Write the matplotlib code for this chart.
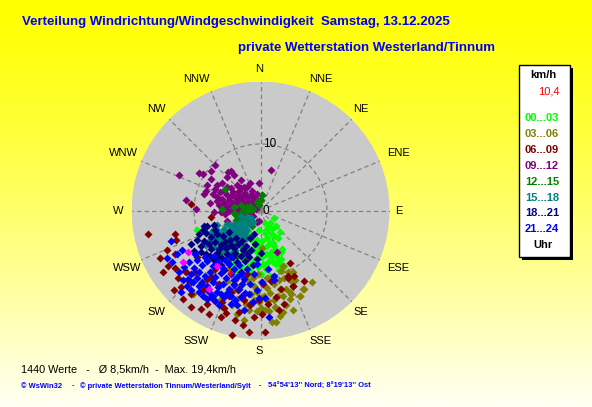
import numpy as np
import matplotlib
matplotlib.use('Agg')
import matplotlib.pyplot as plt
from matplotlib.patches import Circle, Rectangle

plt.rcParams['font.family'] = ['Liberation Sans', 'DejaVu Sans']

# ---------------- data ----------------
title_line1 = "Verteilung Windrichtung/Windgeschwindigkeit  Samstag, 13.12.2025"
title_line2 = "private Wetterstation Westerland/Tinnum"
directions = ['N', 'NNE', 'NE', 'ENE', 'E', 'ESE', 'SE', 'SSE',
              'S', 'SSW', 'SW', 'WSW', 'W', 'WNW', 'NW', 'NNW']
ring_values = [0, 10]
n_values = 1440
mean_speed = 8.5
max_speed = 19.4
current_speed = 10.4
current_dir = 206  # degrees, clockwise from north

group_labels = ['00...03', '03...06', '06...09', '09...12',
                '12...15', '15...18', '18...21', '21...24']
group_colors = ['#00FF00', '#808000', '#800000', '#800080',
                '#008000', '#008080', '#000080', '#0000FF']

# wind vectors: east / north components in km/h
pts_00_03 = [(0.7,-1.9),(1.2,-2.6),(0.7,-3.4),(1.7,-3.6),(1.9,-4.9),(1.4,-1.9),(-1.6,-4.1),
             (-0.8,-4.9),(-2.0,-5.6),(0.9,-2.9),(2.0,-3.9),(1.4,-4.9),(2.1,-5.4),(2.4,-6.8),
             (3.1,-7.3),(0.4,-5.6),(-0.6,-4.4),(-0.1,-6.1),(1.2,-7.8),(1.9,-7.8),(2.3,-2.4),
             (2.4,-8.1),(-9.5,-2.9),(-1.8,-3.6),(-1.3,-4.4),(-0.6,-6.3),(-2.0,-6.3),(-1.1,-7.8),
             (-3.0,-8.3),(0.2,-7.0),(0.8,-8.8),(-0.4,-8.5),(1.6,-6.2),(2.6,-4.2),(3.3,-5.8),
             (2.8,-9.0),(-2.6,-7.2),(-3.6,-6.6),(-4.2,-8.0),(-1.5,-9.2),(0.0,-9.6),(-0.2,-3.0),
             (3.0,-3.2),(-2.4,-10.0),(1.4,-9.8),(3.6,-8.4),(-3.4,-9.4),(2.0,-1.2),(3.1,-6.3),
             (2.9,-8.1),(1.0,-4.2),(0.2,-4.6),(-0.4,-5.2),(-1.2,-5.8),(0.8,-6.6),(-0.6,-7.2),
             (1.6,-7.0),(2.2,-6.0),(0.4,-8.0),(-1.8,-8.4),(-2.8,-6.6),(1.0,-5.4),(1.8,-2.8),
             (2.6,-7.6)]
pts_03_06 = [(0.2,-5.6),(3.4,-8.4),(4.4,-10.5),(4.9,-11.3),(4.6,-12.5),(4.4,-13.3),(5.9,-12.8),
             (7.8,-10.8),(4.9,-15.0),(3.4,-15.2),(1.7,-16.7),(0.7,-15.0),(-0.6,-15.1),(-2.5,-16.5),
             (-3.5,-13.3),(-2.8,-13.0),(3.1,-9.1),(4.1,-9.3),(4.9,-9.3),(3.9,-11.8),(6.5,-11.8),
             (2.2,-14.5),(1.3,-15.1),(2.4,-16.7),(-3.5,-15.5),(-4.3,-14.2),(-5.8,-14.5),(-8.4,-11.4),
             (-8.5,-12.9),(6.4,-11.8),(4.4,-12.3),(2.4,-14.7),(2.1,-13.5),(2.9,-15.9),(-1.8,-15.0),
             (-6.0,-13.3),(-8.2,-11.5),(-2.0,-10.5),(-1.0,-11.4),(0.0,-10.8),(1.0,-11.6),(2.0,-11.0),
             (3.0,-11.8),(-1.5,-12.6),(-0.5,-12.2),(0.5,-12.8),(1.5,-12.4),(2.6,-12.8),(-3.0,-11.2),
             (-4.0,-12.0),(-5.0,-10.6),(-6.5,-11.0),(1.8,-10.0),(-0.2,-13.8),(3.6,-10.2),(-7.2,-9.6),
             (-4.8,-8.8),(-10.2,-12.6),(-7.4,-10.4),(5.9,-12.9),(-1.2,-10.2),(-0.4,-9.6),(1.0,-10.2),
             (2.8,-10.4),(3.4,-12.8),(1.2,-13.6),(-1.0,-13.4),(-2.2,-14.0),(0.0,-14.6),(3.8,-14.2),
             (5.2,-10.4),(-3.8,-10.4)]
pts_06_09 = [(-16.9,-3.6),(-14.0,-5.9),(-12.9,-6.6),(-15.1,-7.2),(-14.6,-9.2),(-10.5,1.0),
             (-12.8,-3.6),(-12.7,-4.5),(-7.5,-1.0),(-13.9,-8.3),(-11.4,-9.1),(-10.9,-10.5),
             (-10.4,-12.5),(-11.7,-13.3),(-10.4,-14.5),(-9.0,-14.8),(-6.0,-16.0),(-5.5,-14.7),
             (-5.8,-13.8),(-4.8,-12.8),(-3.8,-16.5),(-4.3,-18.7),(-10.4,-10.8),(-8.0,-10.3),
             (-7.5,-10.0),(-6.2,-11.0),(-4.0,-11.0),(-4.5,-12.3),(-2.8,-12.8),(-2.5,-13.5),
             (-1.6,-14.2),(-0.3,-13.5),(2.4,-13.0),(4.9,-11.3),(0.7,-18.2),(4.2,-10.1),(4.9,-11.4),
             (3.1,-11.8),(4.1,-9.9),(5.1,-9.8),(1.2,-14.0),(-1.6,-14.0),(0.4,-11.0),(-1.8,-18.3),
             (-11.2,-9.3),(-9.9,-9.3),(-12.0,-11.5),(-8.6,-12.0),(-7.0,-13.5),(-3.2,-15.2),
             (6.6,-10.6),(3.6,-14.0),(-9.5,-7.0),(-12.4,-10.2),(-13.0,-12.0),(-6.8,-8.8),
             (-2.0,-9.6),(1.6,-10.6),(-7.8,-15.6),(-1.0,-16.0),(4.5,-7.9),(-9.0,-11.0),(-8.0,-14.0),
             (-3.4,-12.0),(-5.2,-15.4),(0.2,-15.6),(-2.6,-17.2),(2.8,-15.0),(-12.8,-8.6)]
pts_09_12 = [(-12.2,5.3),(-9.2,5.6),(-8.7,5.5),(-6.8,6.8),(-7.4,5.9),(-7.4,4.7),(-4.9,5.8),
             (-4.5,6.0),(-5.0,5.0),(-4.0,5.3),(-6.6,3.8),(-8.0,3.8),(-8.2,3.0),(-7.2,2.5),
             (-8.5,2.5),(-6.1,2.8),(-6.5,2.0),(-7.6,1.2),(-11.2,1.6),(-9.7,0.3),(-7.0,-0.2),
             (1.65,6.1),(-0.2,4.1),(-5.0,-1.6),(-1.1,-0.9),(-0.3,-1.6),(2.5,-6.2),(-0.6,-1.7),
             (-5.5,3.0),(-4.5,3.4),(-3.5,3.8),(-2.5,3.6),(-2.0,3.5),(-1.3,3.0),(-5.8,1.8),
             (-5.0,2.4),(-4.2,2.8),(-3.3,2.9),(-2.4,2.7),(-1.5,2.4),(-0.6,2.5),(0.2,2.4),
             (-5.5,1.2),(-4.7,1.6),(-3.9,2.0),(-3.0,2.1),(-2.1,1.9),(-1.2,1.6),(-0.4,1.5),
             (-5.2,0.5),(-4.4,0.9),(-3.6,1.3),(-2.8,1.4),(-1.9,1.2),(-0.9,0.9),(-4.8,0.0),
             (-4.0,0.2),(-3.3,0.4),(-2.5,0.3),(-1.6,0.5),(-0.7,0.2),(-3.8,-0.5),(-2.9,-0.3),
             (-2.2,-0.6),(-1.4,-0.2),(-6.2,0.9),(-6.0,-0.3),(-5.4,-0.6),(-5.0,3.6),(-3.0,3.4),
             (-4.4,2.2),(-3.4,2.4),(-2.6,2.2),(-1.0,2.0),(-0.2,0.8),(-5.0,1.0),(-4.2,1.2),
             (-3.2,1.8),(-2.3,1.0),(-1.4,1.0),(-3.5,-0.2),(-6.6,1.4),(-6.8,3.2),(-5.8,4.2),
             (-3.0,4.6),(-1.6,4.2)]
pts_12_15 = [(-5.4,3.3),(-5.8,0.3),(-4.0,0.6),(-4.0,-0.4),(-3.0,0.8),(-2.0,0.6),(-1.1,0.3),
             (-3.0,-0.4),(-2.0,-0.2),(-1.5,0.1),(-0.6,1.3),(-0.1,1.6),(0.17,2.4),(0.07,1.6),
             (-0.3,0.8),(-1.6,0.7),(-2.5,0.2),(-3.5,-0.9),(-1.3,-2.4),(-3.0,-1.2),(-3.5,-1.9),
             (-4.0,-2.9),(-4.5,-3.9),(-5.0,-4.9),(-2.2,-1.5),(-2.6,-2.3),(-3.2,-3.3),(-3.8,-4.4),
             (-4.3,-5.2),(-5.6,-5.7),(-6.2,-6.5),(-2.8,-5.5),(-3.5,-6.8),(-4.8,-7.3),(-6.5,-4.4),
             (-3.7,-1.4),(-2.4,-1.2),(-4.6,-4.6),(-5.4,-6.2),(-4.0,-6.2)]
pts_15_18 = [(-1.5,-1.2),(-2.0,-1.0),(-2.5,-2.4),(-2.0,-2.9),(-3.0,-0.9),(-3.3,-1.9),(-3.5,-2.9),
             (-4.0,-2.1),(-4.5,-2.4),(-5.0,-3.6),(-4.5,-3.9),(-7.2,-2.9),(-7.5,-3.6),(-6.5,-3.0),
             (-6.0,-3.5),(-5.5,-2.8),(-5.8,-4.2),(-5.2,-4.6),(-4.0,-4.0),(-3.5,-3.6),(-3.0,-3.2),
             (-2.8,-4.0),(-3.3,-4.6),(-4.2,-5.0),(-4.8,-5.5),(-5.5,-5.2),(-6.3,-4.8),(-6.8,-4.0),
             (-7.8,-4.6),(-8.2,-5.2),(-7.0,-5.5),(-6.0,-6.0),(-5.2,-6.3),(-4.5,-6.6),(-3.8,-6.0),
             (-3.0,-5.2),(-2.4,-3.5),(-6.6,-2.2),(-5.0,-2.0),(-3.8,-2.6),(-2.6,-1.8),(-4.6,-3.0),
             (-3.9,-3.3),(-3.2,-2.4),(-2.8,-2.9),(-5.4,-3.4),(-6.2,-3.9),(-4.9,-4.2),(-1.8,-2.0),
             (-1.2,-1.8),(-2.2,-4.2)]
pts_18_21 = [(-8.5,-2.4),(-8.0,-2.3),(-7.0,-2.2),(-8.2,-3.4),(-6.5,-3.6),(-9.5,-4.4),(-8.5,-4.6),
             (-10.0,-6.1),(-10.4,-5.1),(-9.0,-5.4),(-7.5,-4.0),(-6.8,-4.8),(-6.0,-5.2),(-5.3,-4.8),
             (-4.6,-4.5),(-4.0,-5.6),(-3.4,-5.0),(-2.8,-4.6),(-2.2,-5.3),(-1.6,-4.2),(-1.0,-3.6),
             (-2.0,-6.5),(-3.0,-6.8),(-4.2,-7.0),(-5.0,-6.6),(-5.8,-7.2),(-6.6,-6.4),(-7.4,-5.8),
             (-8.2,-6.6),(-7.0,-7.4),(-6.0,-8.2),(-4.8,-8.0),(-3.6,-7.8),(-2.4,-7.6),(-1.5,-6.0),
             (-0.8,-5.0),(-0.6,-7.3),(0.0,-6.4),(-1.2,-8.2),(-5.5,-9.0),(-3.0,-9.2),(-6.9,-3.0),
             (-5.6,-3.9),(-4.8,-3.3),(-3.7,-4.2),(-7.8,-5.0),(-6.2,-5.8),(-5.2,-5.6),(-3.8,-6.4),
             (-2.6,-6.0),(-1.8,-7.0),(-4.4,-5.2),(-6.4,-7.0),(-7.6,-6.8),(-9.0,-6.2),(-8.6,-3.0),
             (-9.2,-3.6)]
pts_21_24 = [(-13.5,-4.6),(-14.0,-7.2),(-13.3,-7.7),(-11.7,-10.5),(-10.9,-10.3),(-10.4,-9.6),
             (-11.9,-12.3),(-10.2,-10.7),(-9.2,-11.3),(-8.7,-12.9),(-7.5,-13.0),(-8.0,-13.3),
             (-7.2,-12.8),(-6.5,-12.3),(-5.5,-13.0),(-9.2,-12.3),(-4.5,-14.0),(-3.5,-14.2),
             (-2.5,-15.0),(-0.6,-12.0),(-0.3,-13.2),(0.7,-13.2),(1.3,-16.0),(2.0,-9.9),(2.1,-10.5),
             (-2.5,-10.3),(-4.0,-10.5),(-9.5,-7.5),(-8.8,-8.2),(-8.0,-7.6),(-7.2,-8.4),(-6.4,-7.8),
             (-5.6,-8.6),(-4.8,-8.0),(-4.0,-8.8),(-3.2,-8.2),(-9.2,-9.2),(-8.4,-9.8),(-7.6,-9.2),
             (-6.8,-10.0),(-6.0,-9.4),(-5.2,-10.2),(-4.4,-9.6),(-3.6,-10.0),(-8.8,-10.8),
             (-8.0,-11.4),(-7.2,-10.8),(-6.4,-11.5),(-5.6,-11.0),(-4.8,-11.8),(-4.0,-11.2),
             (-3.2,-11.8),(-2.4,-12.4),(-6.0,-12.6),(-4.4,-12.8),(-1.6,-11.0),(-1.0,-9.5),
             (-9.9,-6.6),(-11.5,-8.5),(-12.2,-9.2),(-10.8,-7.8),(-2.0,-8.8),(-1.2,-13.8),
             (-3.0,-13.0),(0.2,-10.8),(1.2,-8.8),(-0.5,-8.0),(-7.8,-12.2),(-6.8,-13.6),(-5.0,-12.4),
             (-3.8,-13.4),(-9.6,-10.2),(-10.0,-8.6),(-8.4,-7.0),(-7.0,-6.9),(-5.4,-7.4),(-4.4,-7.0),
             (-3.0,-9.6),(-2.8,-11.0),(-1.8,-12.6),(-6.2,-14.2),(-11.0,-11.4),(-12.6,-6.6),
             (-11.8,-6.0),(-10.4,-12.0)]
pts_peaks = [(-10.9,-6.3),(-11.6,-7.8),(-7.7,-11.8),(-6.6,-8.4)]

group_points = [pts_00_03, pts_03_06, pts_06_09, pts_09_12,
                pts_12_15, pts_15_18, pts_18_21, pts_21_24]

# ---------------- layout ----------------
W, H = 592, 407
CX, CY, RPX = 260.5, 210.5, 129.0
label_offsets = {'N': (-1.5, -141.5), 'NNE': (60, -131.5), 'NE': (100, -102),
                 'ENE': (137.5, -57), 'E': (138.5, 0), 'ESE': (137.5, 57.5),
                 'SE': (100, 101.5), 'SSE': (60, 130.5), 'S': (-1.5, 140.5),
                 'SSW': (-64, 130.5), 'SW': (-104.5, 101.5), 'WSW': (-133.5, 57.5),
                 'W': (-142.5, 0), 'WNW': (-137.5, -57), 'NW': (-104, -102),
                 'NNW': (-64, -131.5)}

fig = plt.figure(figsize=(W / 100, H / 100), dpi=100)

# background gradient
bg = fig.add_axes([0, 0, 1, 1], zorder=0)
t = np.linspace(0, 1, 400)
blue = 245 * t ** 1.25
grad = np.zeros((400, 2, 3))
grad[:, :, 0] = 1.0
grad[:, :, 1] = 1.0
grad[:, :, 2] = (blue / 255.0)[:, None]
bg.imshow(grad, extent=[0, W, H, 0], aspect='auto', interpolation='bilinear')
bg.set_xlim(0, W)
bg.set_ylim(H, 0)
bg.axis('off')

# polar-like plot axes
R = max_speed
ax = fig.add_axes([(CX - RPX) / W, (H - CY - RPX) / H, 2 * RPX / W, 2 * RPX / H], zorder=1)
ax.set_xlim(-R, R)
ax.set_ylim(-R, R)
ax.set_aspect('auto')
ax.axis('off')
ax.patch.set_alpha(0)

ax.add_patch(Circle((0, 0), R, facecolor='#CACACA', edgecolor='none', zorder=1))
dash = (0, (3.5, 2.5))
for i in range(len(directions)):
    a = np.deg2rad(i * 360 / len(directions))
    ax.plot([0, R * np.sin(a)], [0, R * np.cos(a)], color='#808080', lw=0.9,
            linestyle=dash, zorder=2)
for rv in ring_values:
    if rv > 0:
        ax.add_patch(Circle((0, 0), rv, fill=False, edgecolor='#808080', lw=0.9,
                            linestyle=dash, zorder=2))

MS = 4.0
for pts, col in zip(group_points, group_colors):
    arr = np.array(pts)
    ax.plot(arr[:, 0], arr[:, 1], ls='none', marker='D', ms=MS, mfc=col, mec='none', zorder=3)
pk = np.array(pts_peaks)
ax.plot(pk[:, 0], pk[:, 1], ls='none', marker='D', ms=MS, mfc='#FF00FF', mec='none', zorder=4)
ca = np.deg2rad(current_dir)
ax.plot([current_speed * np.sin(ca)], [current_speed * np.cos(ca)], ls='none', marker='P',
        ms=5, mfc='#FF0000', mec='none', zorder=5)

for rv in ring_values:
    ax.text(0.35, rv, str(rv), ha='left', va='center', fontsize=8.5, color='black', zorder=6)

# direction labels
for d in directions:
    dx, dy = label_offsets[d]
    bg.text(CX + dx, CY + dy, d, ha='center', va='center', fontsize=8, color='black')

# titles
bg.text(22, 22, title_line1, ha='left', va='center', fontsize=9.5, fontweight='bold', color='#0000FF')
bg.text(238, 48, title_line2, ha='left', va='center', fontsize=9.5, fontweight='bold', color='#0000FF')

# legend box
bg.add_patch(Rectangle((522, 68), 51, 192, facecolor='black', edgecolor='none', zorder=2))
bg.add_patch(Rectangle((519, 65), 51, 192, facecolor='white', edgecolor='black', lw=1, zorder=3))
bg.text(543.5, 75, 'km/h', ha='center', va='center', fontsize=8, fontweight='bold', color='black', zorder=4)
bg.text(560, 91.5, f"{current_speed:.1f}".replace('.', ','), ha='right', va='center', fontsize=8,
        color='#FF0000', zorder=4)
for i, (lab, col) in enumerate(zip(group_labels, group_colors)):
    bg.text(542, 118.3 + i * 15.85, lab, ha='center', va='center', fontsize=8, fontweight='bold',
            color=col, zorder=4)
bg.text(543.5, 245.3, 'Uhr', ha='center', va='center', fontsize=8, fontweight='bold', color='black', zorder=4)

# bottom info
info = (f"{n_values} Werte   -   Ø {mean_speed:.1f}km/h  -  Max. {max_speed:.1f}km/h"
        .replace('.', ',').replace('Max,', 'Max.'))
bg.text(21, 369.5, info, ha='left', va='center', fontsize=7.8, color='black')
footer_parts = [(21, "© WsWin32"), (72, "-"), (80, "© private Wetterstation Tinnum/Westerland/Sylt"),
                (259, "-"), (268, "54°54'13'' Nord; 8°19'13'' Ost")]
for x, s in footer_parts:
    bg.text(x, 386, s, ha='left', va='center', fontsize=5.4, fontweight='bold', color='#0000FF')

fig.savefig('out.png', dpi=100)
